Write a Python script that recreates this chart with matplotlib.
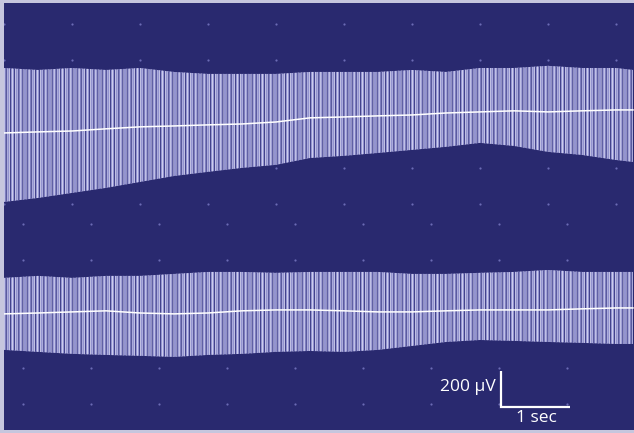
import numpy as np
import matplotlib
matplotlib.use("Agg")
import matplotlib.pyplot as plt

t = [0, 0.5, 1, 1.5, 2, 2.5, 3, 3.5, 4, 4.5, 5, 5.5, 6, 6.5, 7, 7.5, 8, 8.5, 9, 9.25]

# Channel 1 (upper trace): spike envelope and baseline, µV
ch1_top = [344, 333, 344, 333, 344, 322, 311, 311, 311, 322, 322, 322, 333, 322, 344, 344, 356, 344, 344, 333]
ch1_base = [-17, -11, -6, 6, 17, 22, 28, 33, 44, 67, 72, 78, 83, 94, 100, 106, 100, 106, 111, 111]
ch1_bot = [-400, -378, -350, -322, -289, -256, -233, -211, -194, -156, -144, -128, -111, -94, -72, -89, -122, -139, -167, -178]

# Channel 2 (lower trace)
ch2_top = [189, 200, 189, 200, 200, 211, 222, 222, 217, 222, 222, 222, 211, 211, 217, 222, 233, 222, 222, 222]
ch2_base = [-11, -6, 0, 6, -6, -11, -6, 6, 11, 11, 6, 0, 0, 6, 11, 11, 11, 17, 22, 22]
ch2_bot = [-211, -222, -233, -239, -244, -250, -239, -233, -222, -217, -222, -211, -189, -167, -156, -161, -167, -172, -178, -178]

bg = "#29296f"
frame = "#c6c6de"

fig = plt.figure(figsize=(6.34, 4.33), dpi=100, facecolor=frame)
ax = fig.add_axes([4 / 634, 3 / 433, 630 / 634, 427 / 433])
ax.set_xlim(0, 9.265)
ax.set_ylim(0, 2372)
ax.axis("off")
ax.add_patch(plt.Rectangle((0, 0), 1, 1, transform=ax.transAxes, color=bg, zorder=0))

# dotted grid: 1 s x 200 µV, separate for each channel
for k in range(10):
    for r in range(6):
        ax.plot(k, 2256 - 200 * r, "o", ms=1.6, mec="none", color="#6b6bb5", zorder=1)
for k in range(9):
    for r in range(6):
        ax.plot(0.28 + k, 1144 - 200 * r, "o", ms=1.6, mec="none", color="#6b6bb5", zorder=1)

offsets = [1667, 656]
traces = [(ch1_top, ch1_base, ch1_bot), (ch2_top, ch2_base, ch2_bot)]
for off, (top, base, bot) in zip(offsets, traces):
    top = np.array(top) + off
    bot = np.array(bot) + off
    plt.rcParams["hatch.linewidth"] = 0.45
    ax.fill_between(t, bot, top, facecolor="#9494d0", edgecolor="#f0f0ff",
                    hatch="|" * 6, linewidth=0, zorder=2)
    plt.rcParams["hatch.linewidth"] = 0.7
    ax.fill_between(t, bot, top, facecolor="none", edgecolor="#3a3a86",
                    hatch="|" * 4, linewidth=0, zorder=3)
    ax.plot(t, np.array(base) + off, color="white", lw=1.1, zorder=4)

# scale bar
ax.plot([7.31, 7.31, 8.33], [328, 128, 128], color="white", lw=1.6,
        solid_capstyle="butt", solid_joinstyle="miter", zorder=5)
ax.text(7.23, 239, "200 µV", color="white", fontsize=12.5, family="Open Sans",
        ha="right", va="center")
ax.text(7.83, 67, "1 sec", color="white", fontsize=12.5, family="Open Sans",
        ha="center", va="center")

fig.savefig("out.png", dpi=100, facecolor=frame)
